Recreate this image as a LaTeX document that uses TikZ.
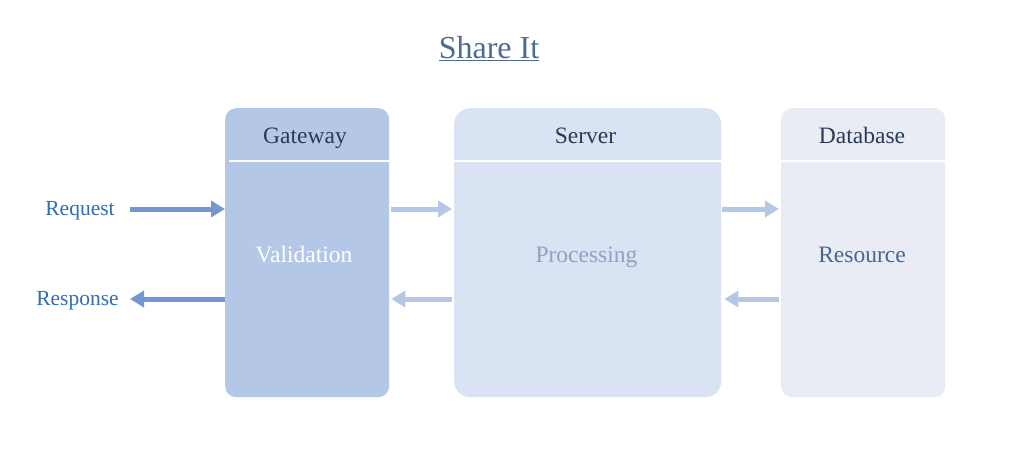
\documentclass[tikz,border=0pt]{standalone}
\usepackage{fontspec}
\setmainfont{Liberation Serif}
\usetikzlibrary{arrows.meta}
\definecolor{gwfill}{HTML}{B4C7E7}
\definecolor{svfill}{HTML}{DAE3F3}
\definecolor{dbfill}{HTML}{E9EBF5}
\definecolor{titlecol}{HTML}{4F6A93}
\definecolor{headcol}{HTML}{2B3A55}
\definecolor{linkblue}{HTML}{2F6DB5}
\definecolor{strongarrow}{HTML}{7497D1}
\definecolor{procol}{HTML}{8DA2C3}
\definecolor{rescol}{HTML}{4A6690}
\tikzset{
  box/.style={anchor=north west, inner sep=0pt, minimum height=289pt},
  head/.style={anchor=base, inner sep=0pt, font=\fontsize{23.5}{26}\selectfont, text=headcol},
  body/.style={anchor=base, inner sep=0pt, font=\fontsize{23.5}{26}\selectfont},
  side/.style={anchor=base, inner sep=0pt, font=\fontsize{21.5}{24}\selectfont, text=linkblue},
  fat/.style={line width=5pt, -{Triangle[width=16pt,length=14pt]}},
  sep/.style={white, line width=2.5pt},
}
\begin{document}
\begin{tikzpicture}[x=1pt,y=-1pt]
\useasboundingbox (0,0) rectangle (1016,448);
\fill[white] (0,0) rectangle (1016,448);
% title
\node[anchor=base, inner sep=0pt, font=\fontsize{32}{36}\selectfont, text=titlecol] (title) at (489,58) {\underline{Share It}};
% boxes
\node[box, fill=gwfill, rounded corners=11pt, minimum width=164pt] (gw) at (225,108) {};
\node[box, fill=svfill, rounded corners=16pt, minimum width=267pt] (sv) at (454,108) {};
\node[box, fill=dbfill, rounded corners=11pt, minimum width=164pt] (db) at (781,108) {};
% separators
\draw[sep] (229,161) -- (389,161);
\draw[sep] (454,161) -- (721,161);
\draw[sep] (781,161) -- (945,161);
% headers
\node[head] (gwh) at (305,143) {Gateway};
\node[head] (svh) at (585.5,143) {Server};
\node[head] (dbh) at (862,143) {Database};
% bodies
\node[body, text=white] (gwb) at (304,262) {Validation};
\node[body, text=procol] (svb) at (586.5,262) {Processing};
\node[body, text=rescol] (dbb) at (862,262) {Resource};
% side labels
\node[side] (req) at (80,215) {Request};
\node[side] (res) at (77.5,305) {Response};
\coordinate (reqs) at (130,209);
\coordinate (rese) at (130,299);
% arrows
\draw[fat, strongarrow] (reqs) -- (reqs -| gw.west);
\draw[fat, strongarrow] (rese -| gw.west) -- (rese);
\draw[fat, gwfill] ([xshift=2pt]gw.east |- reqs) -- ([xshift=-2pt]sv.west |- reqs);
\draw[fat, gwfill] ([xshift=-2pt]sv.west |- rese) -- ([xshift=2pt]gw.east |- rese);
\draw[fat, gwfill] ([xshift=1pt]sv.east |- reqs) -- ([xshift=-2pt]db.west |- reqs);
\draw[fat, gwfill] ([xshift=-2pt]db.west |- rese) -- ([xshift=3pt]sv.east |- rese);
\end{tikzpicture}
\end{document}
